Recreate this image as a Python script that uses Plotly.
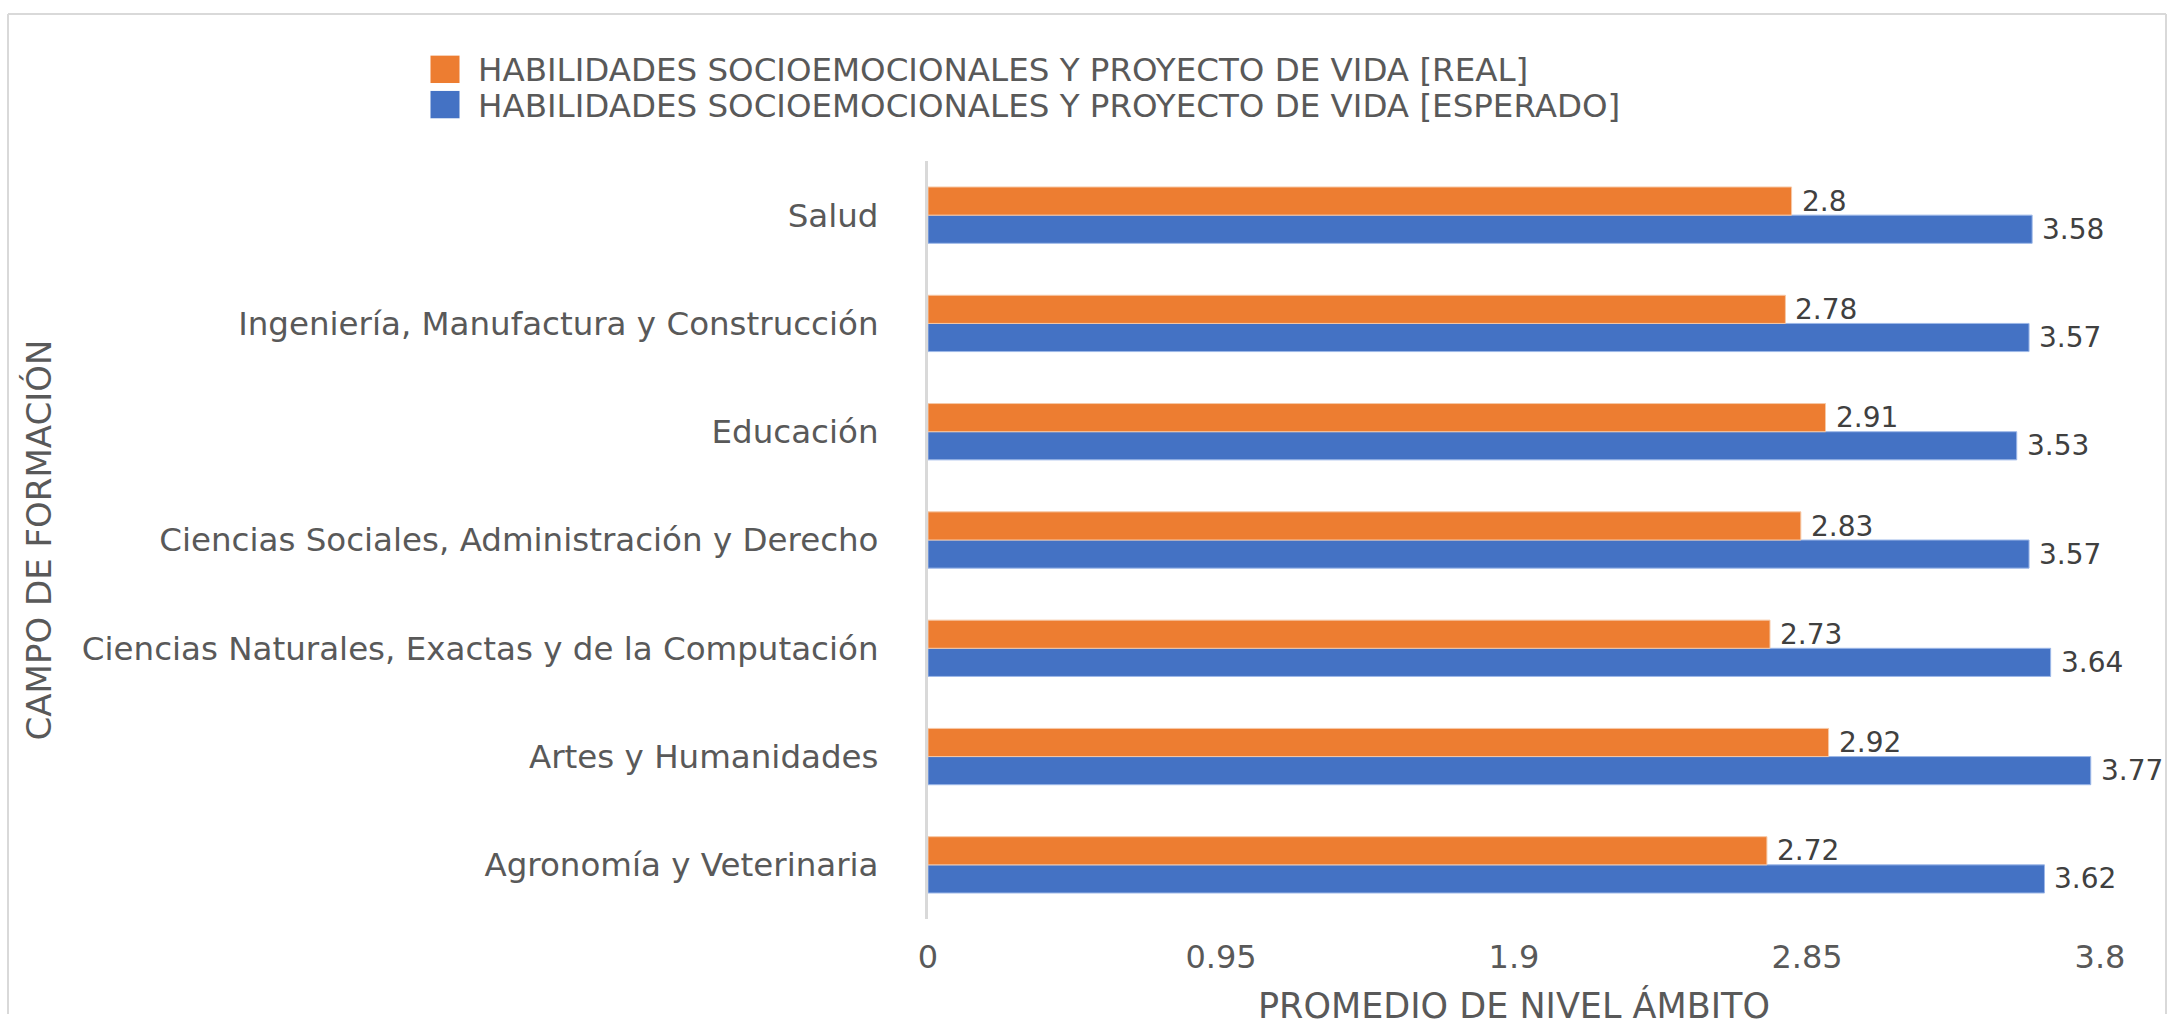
import plotly.graph_objects as go

# ---- data (bottom to top, as plotted) ----
categories = [
    "Agronomía y Veterinaria",
    "Artes y Humanidades",
    "Ciencias Naturales, Exactas y de la Computación",
    "Ciencias Sociales, Administración y Derecho",
    "Educación",
    "Ingeniería, Manufactura y Construcción",
    "Salud",
]
real_values = [2.72, 2.92, 2.73, 2.83, 2.91, 2.78, 2.8]
esperado_values = [3.62, 3.77, 3.64, 3.57, 3.53, 3.57, 3.58]
x_ticks = [0, 0.95, 1.9, 2.85, 3.8]
x_tick_labels = ["0", "0.95", "1.9", "2.85", "3.8"]

name_real = "HABILIDADES SOCIOEMOCIONALES Y PROYECTO DE VIDA [REAL]"
name_esp = "HABILIDADES SOCIOEMOCIONALES Y PROYECTO DE VIDA [ESPERADO]"

ORANGE = "#ED7D31"
BLUE = "#4472C4"
TXT = "#595959"
LBL = "#404040"
FONT = "DejaVu Sans"

W, H = 2168, 1031
L, R, T, B = 928, 2100, 161, 934  # plot area pixel bounds


def px(x):
    return (x - L) / (R - L)


def py(y):
    return (B - y) / (B - T)


fig = go.Figure()
fig.add_trace(go.Bar(
    y=categories, x=esperado_values, orientation="h", name=name_esp,
    marker=dict(color=BLUE, line=dict(color="#9db8e8", width=1)),
    showlegend=False,
))
fig.add_trace(go.Bar(
    y=categories, x=real_values, orientation="h", name=name_real,
    marker=dict(color=ORANGE, line=dict(color="#f6c8a6", width=1)),
    showlegend=False,
))

annotations = []
for c, v in zip(categories, real_values):
    annotations.append(dict(x=v, y=c, xref="x", yref="y", text=f"{v:g}",
                            showarrow=False, xanchor="left", yanchor="middle",
                            xshift=8, yshift=14,
                            font=dict(family=FONT, size=28, color=LBL)))
for c, v in zip(categories, esperado_values):
    annotations.append(dict(x=v, y=c, xref="x", yref="y", text=f"{v:g}",
                            showarrow=False, xanchor="left", yanchor="middle",
                            xshift=8, yshift=-14,
                            font=dict(family=FONT, size=28, color=LBL)))

# manual legend (large square swatches)
shapes = []
legend_items = [(name_real, ORANGE, 53, 82, 68), (name_esp, BLUE, 89, 118, 105)]
for name, col, y0, y1, yc in legend_items:
    shapes.append(dict(type="rect", xref="paper", yref="paper",
                       x0=px(430), x1=px(460), y0=py(y1), y1=py(y0),
                       fillcolor=col, line=dict(color="white", width=1)))
    annotations.append(dict(x=px(476), y=py(yc), xref="paper", yref="paper",
                            text=name, showarrow=False, xanchor="left",
                            yanchor="middle",
                            font=dict(family=FONT, size=32.5, color=TXT)))

# chart border (left, top, right edges; the bottom is outside the picture)
border = dict(color="#d9d9d9", width=2)
shapes.append(dict(type="line", xref="paper", yref="paper",
                   x0=px(8), x1=px(8), y0=py(1031), y1=py(11), line=border,
                   layer="below"))
shapes.append(dict(type="line", xref="paper", yref="paper",
                   x0=px(8), x1=px(2166), y0=py(11), y1=py(11), line=border,
                   layer="below"))
shapes.append(dict(type="line", xref="paper", yref="paper",
                   x0=px(2166), x1=px(2166), y0=py(1031), y1=py(11),
                   line=border, layer="below"))

fig.update_layout(
    width=W, height=H,
    margin=dict(l=L, r=W - R, t=T, b=H - B, pad=0),
    paper_bgcolor="white", plot_bgcolor="white",
    barmode="group", bargap=0.48, bargroupgap=0,
    font=dict(family=FONT, size=30, color=TXT),
    showlegend=False,
    annotations=annotations,
    shapes=shapes,
    xaxis=dict(
        range=[0, 3.8], tickvals=x_ticks, ticktext=x_tick_labels,
        showgrid=False, zeroline=False, showline=False, ticks="",
        ticklabelstandoff=16,
        tickfont=dict(family=FONT, size=32, color=TXT),
        title=dict(text="PROMEDIO DE NIVEL ÁMBITO", standoff=18,
                   font=dict(family=FONT, size=35, color=TXT)),
    ),
    yaxis=dict(
        showgrid=False, zeroline=False, showline=True,
        linecolor="#d9d9d9", linewidth=3, ticks="",
        ticklabelstandoff=40,
        tickfont=dict(family=FONT, size=32.5, color=TXT),
        title=dict(text="CAMPO DE FORMACIÓN", standoff=20,
                   font=dict(family=FONT, size=34, color=TXT)),
    ),
)

fig.write_html(
    "out.html", config={"displayModeBar": False},
    post_script="document.body.style.margin='0';"
                "document.body.style.overflow='hidden';"
                "document.documentElement.style.overflow='hidden';",
)
